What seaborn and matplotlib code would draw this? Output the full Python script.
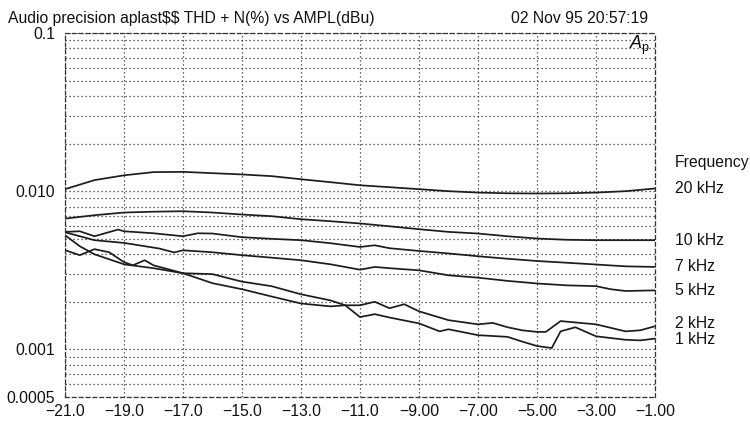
import matplotlib
matplotlib.use("Agg")
import matplotlib.pyplot as plt
import matplotlib.ticker as mticker
import pandas as pd
import seaborn as sns

# Generator amplitude (dBu) and measured THD+N (%) for each test frequency
amp_20k = [-21, -20, -19, -18, -17, -16, -15, -14, -13, -12, -11, -10, -9, -8,
           -7, -6, -5, -4, -3, -2, -1]
thd_20k = [0.0103, 0.01175, 0.0126, 0.0132, 0.01325, 0.0130, 0.01276, 0.01245,
           0.0119, 0.0114, 0.0109, 0.0106, 0.0103, 0.0100, 0.0098, 0.0097,
           0.00967, 0.0097, 0.0098, 0.0100, 0.0104]

amp_10k = [-21, -20, -19, -18, -17, -16, -15, -14, -13, -12, -11, -10, -9, -8,
           -7, -6, -5, -4, -3, -2, -1]
thd_10k = [0.00671, 0.00705, 0.00733, 0.00742, 0.00747, 0.00733, 0.00712,
           0.00695, 0.00665, 0.00646, 0.00625, 0.0060, 0.00575, 0.00553,
           0.0054, 0.00519, 0.00502, 0.00493, 0.0049, 0.0049, 0.0049]

amp_7k = [-21, -20.5, -20, -19.2, -19, -18, -17, -16.5, -16, -15, -14, -13,
          -12, -11, -10.5, -10, -9, -8, -7, -6, -5, -4, -3, -2, -1]
thd_7k = [0.00553, 0.00558, 0.00519, 0.00572, 0.00558, 0.00542, 0.00519,
          0.00542, 0.00540, 0.00512, 0.0050, 0.0049, 0.00469, 0.00444,
          0.00455, 0.00436, 0.00419, 0.00404, 0.00388, 0.00374, 0.00362,
          0.00353, 0.00344, 0.00335, 0.00332]

amp_5k = [-21, -20, -19, -17.8, -17.3, -17, -16, -15, -14, -13, -12, -11,
          -10.5, -10, -9, -8, -7, -6, -5, -4, -3, -2.5, -2, -1]
thd_5k = [0.0055, 0.0049, 0.00471, 0.00434, 0.0041, 0.00423, 0.00411,
          0.00394, 0.0038, 0.00366, 0.00345, 0.00319, 0.00332, 0.00326,
          0.00316, 0.00294, 0.00284, 0.00271, 0.00261, 0.00254, 0.00251,
          0.0024, 0.00234, 0.00236]

amp_2k = [-21, -20.5, -20, -19, -18, -17, -16, -15, -14, -13, -12, -11.5,
          -11, -10.5, -10, -9.5, -9, -8, -7, -6.5, -6, -5.5, -5, -4.7, -4.2,
          -3.7, -3, -2, -1.5, -1]
thd_2k = [0.00527, 0.00449, 0.00399, 0.00345, 0.00326, 0.00303, 0.00299,
          0.00268, 0.00251, 0.00223, 0.00204, 0.0019, 0.0019, 0.0020,
          0.00182, 0.00193, 0.00174, 0.00153, 0.00144, 0.00147, 0.00138,
          0.00132, 0.00129, 0.00129, 0.00151, 0.00148, 0.00144, 0.0013,
          0.00132, 0.0014]

amp_1k = [-21, -20.5, -20, -19.5, -19, -18.7, -18.3, -18, -17, -16, -15, -14,
          -13, -12, -11.5, -11, -10.5, -10, -9, -8.3, -8, -7, -6, -5.5, -5,
          -4.5, -4.2, -3.7, -3, -2, -1.5, -1]
thd_1k = [0.00424, 0.00394, 0.0043, 0.00411, 0.00356, 0.0034, 0.00366,
          0.0034, 0.00303, 0.00262, 0.0024, 0.00216, 0.00195, 0.00187,
          0.0019, 0.0016, 0.00167, 0.00159, 0.00146, 0.0013, 0.00134,
          0.00123, 0.0012, 0.00112, 0.00105, 0.00102, 0.0013, 0.00138,
          0.00121, 0.00115, 0.00114, 0.00117]

freq_labels = ["20 kHz", "10 kHz", "7 kHz", "5 kHz", "2 kHz", "1 kHz"]
amp_sets = [amp_20k, amp_10k, amp_7k, amp_5k, amp_2k, amp_1k]
thd_sets = [thd_20k, thd_10k, thd_7k, thd_5k, thd_2k, thd_1k]

x_ticks = [-21, -19, -17, -15, -13, -11, -9, -7, -5, -3, -1]
x_tick_labels = ["\u221221.0", "\u221219.0", "\u221217.0", "\u221215.0",
                 "\u221213.0", "\u221211.0", "\u22129.00", "\u22127.00",
                 "\u22125.00", "\u22123.00", "\u22121.00"]
y_ticks = [0.0005, 0.001, 0.01, 0.1]
y_tick_labels = ["0.0005", "0.001", "0.010", "0.1"]

title_text = "Audio precision aplast\\$\\$ THD + N(%) vs AMPL(dBu)"
stamp_text = "02 Nov 95 20:57:19"

rows = []
for label, amps, thds in zip(freq_labels, amp_sets, thd_sets):
    for a, t in zip(amps, thds):
        rows.append({"freq": label, "amp": a, "thd": t})
df = pd.DataFrame(rows)

sns.set_theme(style="white")
plt.rcParams["font.family"] = ["Liberation Sans", "DejaVu Sans"]
plt.rcParams["mathtext.fontset"] = "custom"
plt.rcParams["mathtext.rm"] = "Liberation Sans"
plt.rcParams["mathtext.it"] = "Liberation Sans:italic"

ink = "#1c1c1c"
txt = "#111111"
fs = 11.3
fig = plt.figure(figsize=(7.5, 4.24), dpi=100)
ax = fig.add_axes([65 / 750, 1 - 397 / 424, 590 / 750, 364 / 424])

sns.lineplot(data=df, x="amp", y="thd", hue="freq", units="freq",
             estimator=None, sort=False, legend=False,
             palette={f: ink for f in freq_labels}, linewidth=1.25, ax=ax)

ax.set_yscale("log")
ax.set_xlim(-21, -1)
ax.set_ylim(0.0005, 0.1)

ax.set_xticks(x_ticks)
ax.set_xticklabels(x_tick_labels)
ax.yaxis.set_major_locator(mticker.FixedLocator(y_ticks))
ax.yaxis.set_major_formatter(mticker.FixedFormatter(y_tick_labels))
ax.yaxis.set_minor_locator(mticker.LogLocator(base=10, subs=range(2, 10)))
ax.yaxis.set_minor_formatter(mticker.NullFormatter())
ax.tick_params(axis="both", which="both", length=0, labelsize=fs,
               colors=txt)
ax.tick_params(axis="x", pad=5)
ax.tick_params(axis="y", pad=7)
ax.set_xlabel("")
ax.set_ylabel("")

dot = (0, (1, 2.2))
ax.grid(False)
ax.grid(True, axis="x", which="major", color="#333333", linestyle=dot,
        linewidth=0.9)
ax.grid(True, axis="y", which="both", color="#333333", linestyle=dot,
        linewidth=0.9)
ax.set_axisbelow(True)

for side in ["top", "bottom", "left", "right"]:
    sp = ax.spines[side]
    sp.set_visible(True)
    sp.set_color("#333333")
    sp.set_linewidth(0.9)
    sp.set_linestyle((0, (3, 2.5)))

# Curve labels at the right edge, nudged apart where two ends sit close
label_nudge = {"2 kHz": 2, "1 kHz": -1}
lab_tf = ax.get_yaxis_transform()
for label, thds in zip(freq_labels, thd_sets):
    ax.annotate(label, xy=(1.034, thds[-1]), xycoords=lab_tf,
                xytext=(0, label_nudge.get(label, 0)),
                textcoords="offset points", ha="left", va="center",
                fontsize=fs, color=txt)
ax.text(1.034, 0.6456, "Frequency", transform=ax.transAxes, ha="left",
        va="center", fontsize=fs, color=txt)

ax.text(0.992, 0.965, r"$A_\mathrm{p}$", transform=ax.transAxes, ha="right",
        va="center", fontsize=13, color=txt)

fig.text(8 / 750, 1 - 23 / 424, title_text, ha="left", va="baseline",
         fontsize=fs, color=txt)
fig.text(648 / 750, 1 - 23 / 424, stamp_text, ha="right", va="baseline",
         fontsize=fs, color=txt)

fig.savefig("out.png", dpi=100, facecolor="white")
